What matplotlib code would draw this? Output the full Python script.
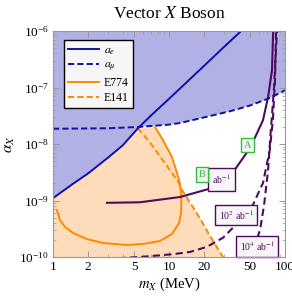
import numpy as np
import matplotlib
matplotlib.use("Agg")
import matplotlib.pyplot as plt
from matplotlib.ticker import LogLocator, FixedLocator, FixedFormatter, NullFormatter

plt.rcParams['font.family'] = ['Liberation Serif', 'DejaVu Serif']
plt.rcParams['mathtext.fontset'] = 'stix'

# ---------------- data ----------------
ae_m = [1, 1.5, 2, 3, 4, 5.4, 7, 10, 15, 20, 30, 41, 45]
ae_a = [1.1e-9, 2.0e-9, 3.0e-9, 5.8e-9, 9.5e-9, 1.9e-8, 3.2e-8, 6.3e-8,
        1.38e-7, 2.4e-7, 5.3e-7, 9.6e-7, 1.2e-6]

amu_m = [1, 3, 5.4, 10, 12.4, 20, 33.6, 50, 71, 94, 100]
amu_a = [1.86e-8, 1.9e-8, 2.0e-8, 2.2e-8, 2.35e-8, 2.95e-8, 3.8e-8,
         4.8e-8, 6.3e-8, 8.3e-8, 9.0e-8]

e774_m = [1.08, 1.15, 1.27, 1.49, 1.96, 2.70, 4.34, 5.97, 8.36, 10.6,
          12.2, 12.7, 12.8, 12.4, 11.7, 10.6, 8.87, 7.57]
e774_a = [6.8e-10, 4.5e-10, 3.4e-10, 2.66e-10, 2.08e-10, 1.77e-10,
          1.63e-10, 1.70e-10, 1.92e-10, 2.55e-10, 4.0e-10, 6.0e-10,
          1.15e-9, 2.04e-9, 3.1e-9, 5.9e-9, 1.17e-8, 2.0e-8]

e141_m = [5.4, 6.9, 9.2, 12.0, 12.9, 16.1, 19.0, 23.0, 29.2, 31]
e141_a = [1.9e-8, 1.05e-8, 4.6e-9, 2.14e-9, 1.55e-9, 7.6e-10, 4.4e-10,
          2.2e-10, 1.0e-10, 8.5e-11]

lum1_m = [2.92, 5.6, 12.4, 22.5, 35.6, 47, 55, 64.6, 71.5, 77.3, 79, 79.5]
lum1_a = [9.1e-10, 9.3e-10, 1.15e-9, 1.62e-9, 3.16e-9, 7.1e-9, 1.29e-8,
          2.63e-8, 6.8e-8, 2.04e-7, 1.0e-6, 1.3e-6]

lum2_m = [2.92, 5.6, 10.8, 15.2, 21.2, 29.2, 40.9, 52.8, 64.6, 73.9,
          78.6, 82, 83.7, 84]
lum2_a = [0.93e-10, 1.0e-10, 1.12e-10, 1.23e-10, 1.51e-10, 2.19e-10,
          4.4e-10, 8.3e-10, 2.04e-9, 7.8e-9, 2.63e-8, 1.35e-7, 1.0e-6, 1.3e-6]

lum4_m = [49, 55, 60.9, 66, 71.5, 75.5, 80.2, 85.3, 86]
lum4_a = [0.9e-10, 1.62e-10, 3.0e-10, 8.3e-10, 3.47e-9, 1.78e-8,
          9.1e-8, 1.0e-6, 1.3e-6]

xticks = [1, 2, 5, 10, 20, 50, 100]
xticklabels = ['1', '2', '5', '10', '20', '50', '100']

title = 'Vector $X$ Boson'
xlabel = '$m_X$ (MeV)'
ylabel = r'$\alpha_X$'

# ---------------- styling ----------------
BLUE = '#0c12a6'
ORANGE = '#ff8800'
PURPLE = '#4e0a5e'
BLUE_FILL = '#b1b1e6'
ORANGE_FILL = '#ffdcb9'
GREEN = '#2fbf3a'

fig = plt.figure(figsize=(2.92, 2.97), dpi=100)
ax = fig.add_axes([53/292, 1-257/297, 232/292, 226/297])
ax.set_xscale('log')
ax.set_yscale('log')
ax.set_xlim(1, 100)
ax.set_ylim(1e-10, 1e-6)

# orange excluded region polygon built from the curves
ia = ae_m.index(5.4)
i_top = 12  # index in e774 where upper arc begins (12.8 point)
poly_m = ([1] + ae_m[:ia + 1] + e774_m[::-1][:len(e774_m) - i_top - 1]
          + e141_m[4:] + [31, 1])
poly_a = ([1e-10] + ae_a[:ia + 1] + e774_a[::-1][:len(e774_a) - i_top - 1]
          + e141_a[4:] + [1e-10, 1e-10])
ax.fill(poly_m, poly_a, color=ORANGE_FILL, lw=0, zorder=1)

# blue excluded region above min(a_e, a_mu)
jm = amu_m.index(5.4)
bm = ae_m[:ia + 1] + amu_m[jm:] + [100, 1]
ba = ae_a[:ia + 1] + amu_a[jm:] + [1e-6, 1e-6]
ax.fill(bm, ba, color=BLUE_FILL, lw=0, zorder=1)

dash = (0, (3.2, 1.6))
ax.plot(ae_m, ae_a, color=BLUE, lw=1.4, zorder=4, label='$a_e$')
ax.plot(amu_m, amu_a, color=BLUE, lw=1.4, ls=dash, zorder=4, label=r'$a_\mu$')
ax.plot(e774_m, e774_a, color=ORANGE, lw=1.4, zorder=3, label='E774')
ax.plot(e141_m, e141_a, color=ORANGE, lw=1.4, ls=dash, zorder=3, label='E141')

ax.plot(lum1_m, lum1_a, color=PURPLE, lw=1.5, zorder=3)
ax.plot(lum2_m, lum2_a, color=PURPLE, lw=1.5, ls=(0, (3.5, 2.0)), zorder=3)
ax.plot(lum4_m, lum4_a, color=PURPLE, lw=1.5, ls=(0, (3.5, 2.0)), zorder=3)

def pbox(x, y, s, ec, tc, fs=7, pad=0.35):
    ax.text(x, y, s, transform=ax.transAxes, ha='center', va='center',
            fontsize=fs, color=tc, zorder=6,
            bbox=dict(boxstyle='square,pad=%g' % pad, fc='#f7f5f7', ec=ec, lw=1.0))

pbox((221.5-53)/232, (257-179.5)/226, 'ab$^{-1}$', PURPLE, PURPLE, pad=0.45)
pbox((236-53)/232, (257-215)/226, '10$^2$ ab$^{-1}$', PURPLE, PURPLE)
pbox((257-53)/232, (257-246.5)/226, '10$^4$ ab$^{-1}$', PURPLE, PURPLE)
pbox((247.5-53)/232, (257-145)/226, 'A', GREEN, GREEN, fs=7.5, pad=0.25)
pbox((202-53)/232, (257-174.5)/226, 'B', GREEN, GREEN, fs=7.5, pad=0.25)

leg = ax.legend(loc='upper left', bbox_to_anchor=(11/232, 1-9/226),
                fontsize=8.5, frameon=True, fancybox=False, handlelength=2.6,
                handletextpad=0.4, labelspacing=0.25, borderpad=0.35,
                borderaxespad=0)
leg.get_frame().set_edgecolor('black')
leg.get_frame().set_facecolor('#f6f6f6')
leg.get_frame().set_linewidth(1.0)
leg.get_frame().set_alpha(1)
leg.set_zorder(7)

# ticks
ax.xaxis.set_major_locator(FixedLocator(xticks))
ax.xaxis.set_major_formatter(FixedFormatter(xticklabels))
ax.xaxis.set_minor_locator(LogLocator(base=10, subs=np.arange(2, 10)))
ax.xaxis.set_minor_formatter(NullFormatter())
ax.yaxis.set_major_locator(LogLocator(base=10, numticks=10))
ax.yaxis.set_minor_locator(LogLocator(base=10, subs=np.arange(2, 10), numticks=20))
ax.yaxis.set_minor_formatter(NullFormatter())
ax.tick_params(which='both', direction='in', top=True, right=True,
               color='#999999', labelsize=9.5, pad=3)
ax.tick_params(which='major', length=4, width=0.7)
ax.tick_params(which='minor', length=2, width=0.5)
for s in ax.spines.values():
    s.set_color('#999999')
    s.set_linewidth(0.8)
    s.set_zorder(8)

ax.set_title(title, fontsize=12.5, pad=9)
ax.set_xlabel(xlabel, fontsize=10.5, labelpad=2)
ax.set_ylabel(ylabel, fontsize=11, labelpad=2)

fig.savefig('out.png', dpi=100)
